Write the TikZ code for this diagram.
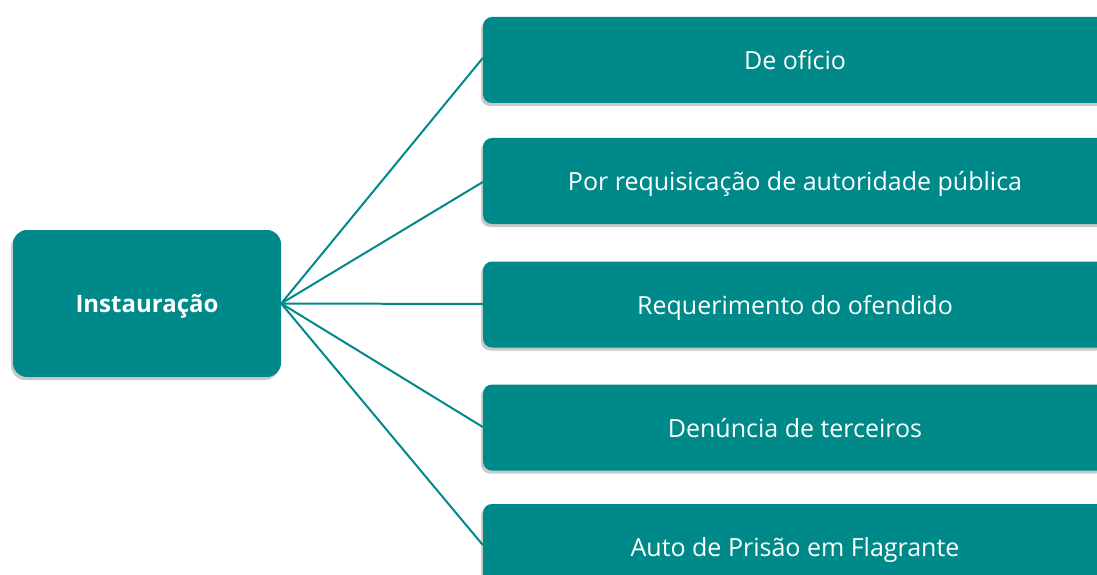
\documentclass[tikz,border=0pt]{standalone}
\usepackage{fontspec}
\setmainfont{Open Sans}
\usetikzlibrary{shadows}
\definecolor{teal}{RGB}{0,137,137}
\begin{document}
\begin{tikzpicture}[x=1pt,y=-1pt,
  box/.style={fill=teal, rounded corners=9pt, draw=none, text depth=0pt,
    drop shadow={shadow xshift=-2pt, shadow yshift=-3pt, opacity=0.3, fill=black!70}},
  item/.style={box, minimum width=624pt, minimum height=86pt, inner sep=0pt,
    text=white, font=\fontsize{25}{30}\selectfont},
  root/.style={box, minimum width=268pt, minimum height=147pt, inner sep=0pt,
    text=white, font=\fontsize{24}{29}\selectfont\bfseries, rounded corners=14pt},
  link/.style={draw=teal, line width=2pt}]
\useasboundingbox (0,0) rectangle (1097,575);
\clip (0,0) rectangle (1097,575);
\node[root] (r) at (147,303.5) {Instauração};
\node[item] (a) at (795,60) {De ofício};
\node[item] (b) at (795,181) {Por requisicação de autoridade pública};
\node[item] (c) at (795,304.5) {Requerimento do ofendido};
\node[item] (d) at (795,427.5) {Denúncia de terceiros};
\node[item] (e) at (795,547) {Auto de Prisão em Flagrante};
\draw[link] (r.east) -- (a.west |- 0,58);
\draw[link] (r.east) -- (b.west |- 0,182);
\draw[link] (r.east) -- (c.west |- 0,304);
\draw[link] (r.east) -- (d.west |- 0,427);
\draw[link] (r.east) -- (e.west |- 0,545);
\end{tikzpicture}
\end{document}
